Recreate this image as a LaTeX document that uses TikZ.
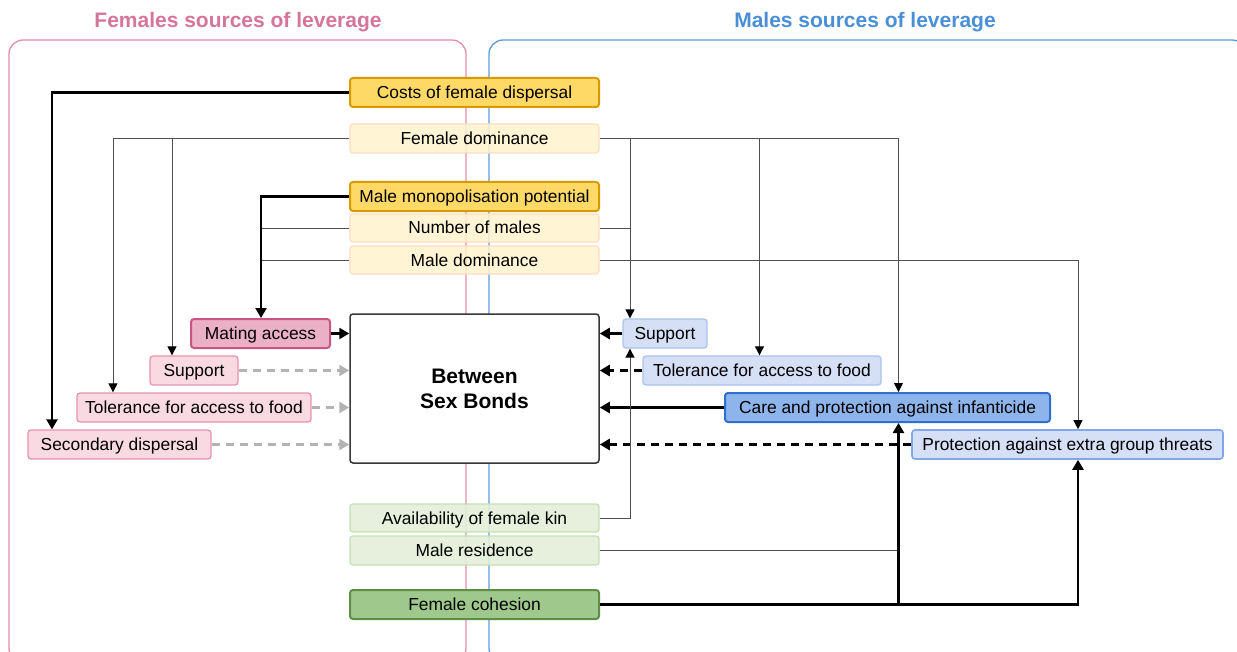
\documentclass[tikz,border=0pt]{standalone}
\usepackage{fontspec}
\setmainfont{Liberation Sans}
\usetikzlibrary{arrows.meta,calc}
\definecolor{pinkline}{HTML}{E68AA8}
\definecolor{pinktitle}{HTML}{D6759A}
\definecolor{blueline}{HTML}{5B9BE0}
\definecolor{bluetitle}{HTML}{4A8FD6}
\definecolor{orF}{HTML}{FFD966}\definecolor{orD}{HTML}{D79B00}
\definecolor{ylF}{HTML}{FFF2CC}\definecolor{ylD}{HTML}{FFDDC0}
\definecolor{pkSF}{HTML}{EBB0C5}\definecolor{pkSD}{HTML}{C95682}
\definecolor{pkLF}{HTML}{F9D9E2}\definecolor{pkLD}{HTML}{E793AE}
\definecolor{blLF}{HTML}{D5DFF5}\definecolor{blLD}{HTML}{A9C2EE}
\definecolor{blSF}{HTML}{8EB4EC}\definecolor{blSD}{HTML}{2F6FCF}
\definecolor{blPD}{HTML}{7FA7EA}
\definecolor{grLF}{HTML}{E3EED8}\definecolor{grLD}{HTML}{C4E0B5}
\definecolor{grSF}{HTML}{9FC98C}\definecolor{grSD}{HTML}{5E8D48}
\definecolor{thinc}{HTML}{505050}
\definecolor{gdc}{HTML}{B3B3B3}
\newcommand{\fs}{\fontsize{17.4bp}{21bp}\selectfont}
\begin{document}
\begin{tikzpicture}[x=1bp,y=-1bp,
  box/.style={rectangle, rounded corners=3bp, inner sep=0pt, font=\fs, text=black, text height=15.7bp, text depth=3.7bp},
  orB/.style={box, fill=orF, draw=orD, line width=2bp},
  ylB/.style={box, fill=ylF, fill opacity=0.85, text opacity=1, draw=ylD, line width=1.2bp},
  pkS/.style={box, fill=pkSF, draw=pkSD, line width=2bp},
  pkL/.style={box, fill=pkLF, draw=pkLD, line width=1.3bp},
  blL/.style={box, fill=blLF, draw=blLD, line width=1.3bp},
  blS/.style={box, fill=blSF, draw=blSD, line width=2bp},
  blP/.style={box, fill=blLF, draw=blPD, line width=1.6bp},
  grL/.style={box, fill=grLF, fill opacity=0.9, text opacity=1, draw=grLD, line width=1.3bp},
  grS/.style={box, fill=grSF, draw=grSD, line width=2bp},
  thk/.style={line width=2.4bp, black},
  thn/.style={line width=0.9bp, thinc},
  tipK/.style={-{Triangle[length=10bp,width=11bp]}},
  tipN/.style={-{Triangle[length=9bp,width=9bp,color=black]}},
  bdash/.style={line width=2.8bp, black, dash pattern=on 8bp off 6bp, -{Triangle[length=10bp,width=11bp]}},
  gdash/.style={line width=3bp, gdc, dash pattern=on 8bp off 6bp, -{Triangle[length=10bp,width=11bp]}},
  ttl/.style={font=\fontsize{21bp}{25bp}\selectfont\bfseries}
]
\useasboundingbox (0,0) rectangle (1237,652);
% containers
\draw[pinkline, line width=1.3bp, rounded corners=14bp] (9,40) rectangle (466,662);
\draw[blueline, line width=1.3bp, rounded corners=14bp] (489,40) rectangle (1246,662);
\node[ttl, text=pinktitle] (tF) at (238,22.5) {Females sources of leverage};
\node[ttl, text=bluetitle] (tM) at (865,22.5) {Males sources of leverage};

% nodes
\node[orB, minimum width=249bp, minimum height=29bp] (cfd) at (474.5,92.5) {Costs of female dispersal};
\node[ylB, minimum width=249bp, minimum height=29bp] (fdom) at (474.5,138.5) {Female dominance};
\node[orB, minimum width=249bp, minimum height=29bp] (mmp) at (474.5,196.5) {Male monopolisation potential};
\node[ylB, minimum width=249bp, minimum height=28bp] (nmal) at (474.5,228) {Number of males};
\node[ylB, minimum width=249bp, minimum height=28bp] (mdom) at (474.5,260) {Male dominance};
\node[rectangle, rounded corners=3bp, inner sep=0pt, text=black, draw=black!78, fill=white, line width=1.5bp, minimum width=249bp, minimum height=149bp, align=center,
  font=\fontsize{21bp}{25bp}\selectfont\bfseries] (bsb) at (474.5,388.5) {Between\\Sex Bonds};
\node[pkS, minimum width=139bp, minimum height=29bp] (mat) at (260.5,333.5) {Mating access};
\node[pkL, minimum width=88bp, minimum height=29bp] (supL) at (194,370.5) {Support};
\node[pkL, minimum width=234bp, minimum height=29bp] (tolL) at (194,407.5) {Tolerance for access to food};
\node[pkL, minimum width=183bp, minimum height=29bp] (secd) at (119.5,444.5) {Secondary dispersal};
\node[blL, minimum width=84bp, minimum height=29bp] (supR) at (665,333.5) {Support};
\node[blL, minimum width=238bp, minimum height=29bp] (tolR) at (762,370.5) {Tolerance for access to food};
\node[blS, minimum width=325bp, minimum height=29bp] (care) at (887.5,407.5) {Care and protection against infanticide};
\node[blP, minimum width=311bp, minimum height=29bp] (prot) at (1067.5,444.5) {Protection against extra group threats};
\node[grL, minimum width=249bp, minimum height=28bp] (afk) at (474.5,518) {Availability of female kin};
\node[grL, minimum width=249bp, minimum height=29bp] (mres) at (474.5,550.5) {Male residence};
\node[grS, minimum width=249bp, minimum height=29bp] (fcoh) at (474.5,604.5) {Female cohesion};

% bus coordinates
\coordinate (cA) at (52,0);
\coordinate (cB) at (113,0);
\coordinate (cC) at (172,0);
\coordinate (cD) at (261,0);
\coordinate (cE) at (630,0);
\coordinate (cF) at (759.5,0);
\coordinate (cG) at (898.5,0);
\coordinate (cH) at (1078,0);

% left side
\draw[thk, tipK] (cfd.west) -| (cA |- secd.north);
\draw[thn, tipN] (fdom.west) -| (cB |- tolL.north);
\draw[thn, tipN] (cC |- fdom.west) -- (cC |- supL.north);
\draw[thn] (nmal.west) -- (cD |- nmal.west);
\draw[thn] (mdom.west) -- (cD |- mdom.west);
\draw[thk, tipK] (mmp.west) -| (cD |- mat.north);
% right side buses
\draw[thn, tipN] (fdom.east) -| (cG |- care.north);
\draw[thn, tipN] (cE |- fdom.east) -- (cE |- supR.north);
\draw[thn, tipN] (cF |- fdom.east) -- (cF |- tolR.north);
\draw[thn] (nmal.east) -- (cE |- nmal.east);
\draw[thn, tipN] (mdom.east) -| (cH |- prot.north);
% into the bonds box
\draw[thk, tipK] (mat.east) -- (bsb.west |- mat.east);
\draw[gdash] (supL.east) -- (bsb.west |- supL.east);
\draw[gdash] (tolL.east) -- (bsb.west |- tolL.east);
\draw[gdash] (secd.east) -- (bsb.west |- secd.east);
\draw[thk, tipK] (supR.west) -- (bsb.east |- supR.west);
\draw[bdash] (tolR.west) -- (bsb.east |- tolR.west);
\draw[thk, tipK] (care.west) -- (bsb.east |- care.west);
\draw[bdash] (prot.west) -- (bsb.east |- prot.west);
% bottom
\draw[thn, tipN] (afk.east) -| (cE |- supR.south);
\draw[thn] (mres.east) -- (cG |- mres.east);
\draw[thk, tipK] (fcoh.east) -| (cH |- prot.south);
\draw[thk, tipK] (cG |- fcoh.east) -- (cG |- care.south);
\end{tikzpicture}
\end{document}
